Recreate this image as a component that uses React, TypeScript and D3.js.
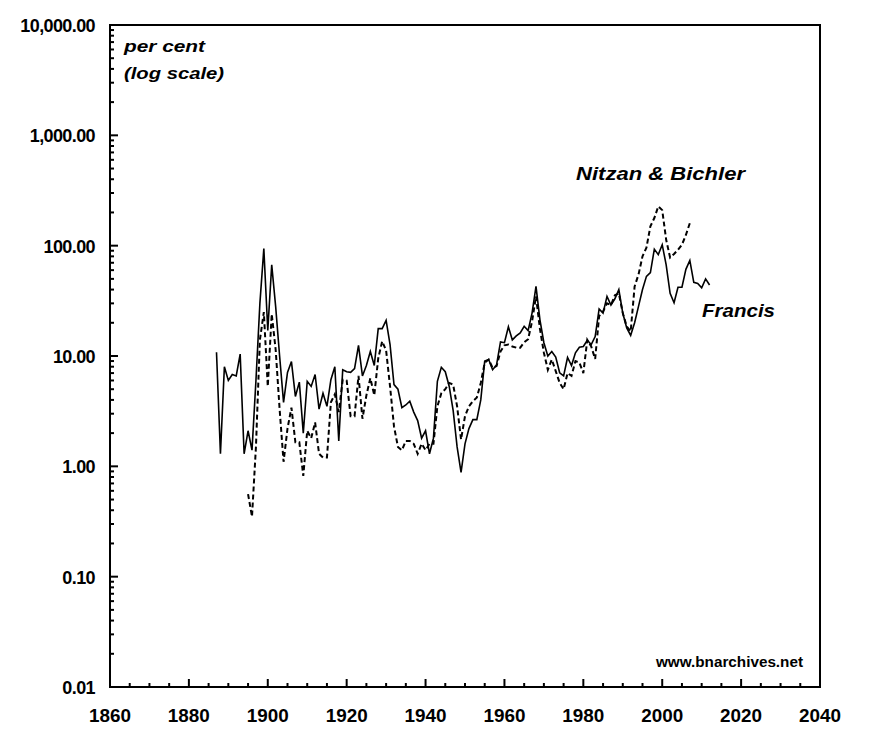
import { useEffect, useRef } from "react";
import * as d3 from "d3";

// Francis series (solid), annual, 1887-2012
const francisStart = 1887;
const francisValues = [
  10.8, 1.3, 8.0, 6.0, 6.8, 6.6, 10.4, 1.3, 2.1, 1.4,
  6.0, 30, 94, 17, 67, 28, 10, 3.8, 7.1, 8.9,
  4.3, 5.8, 2.0, 5.9, 5.3, 6.8, 3.3, 4.6, 3.5, 6.1,
  8.0, 1.7, 7.5, 7.2, 7.1, 7.7, 12.5, 6.6, 8.2, 11,
  8.2, 17.7, 17.7, 21, 12.7, 5.5, 5.0, 3.4, 3.6, 3.9,
  3.1, 2.6, 1.8, 2.1, 1.3, 1.8, 5.9, 7.9, 7.2, 5.3,
  3.2, 1.5, 0.88, 1.6, 2.2, 2.65, 2.65, 4.0, 9.0, 9.3,
  7.5, 8.3, 13.4, 13.2, 18.4, 14, 15.2, 16.2, 18.6, 17,
  24.5, 42.7, 21.3, 13.2, 10, 11, 9.8, 7.05, 6.6, 9.7,
  8.2, 10.7, 12, 12.2, 13.9, 12.7, 15, 26.7, 24.5, 34.7,
  29, 33, 40, 24.5, 18, 15.4, 20, 28.3, 40, 52.7,
  57, 93, 83, 102, 67, 37, 30.4, 42, 42, 61,
  73.5, 46.5, 45.5, 41.5, 50, 44,
];

// Nitzan & Bichler series (dashed), annual, 1895-2007
const nbStart = 1895;
const nbValues = [
  0.56, 0.35, 1.5, 14, 25, 5.3, 24, 11.4, 3.3, 1.1,
  2.2, 3.4, 1.65, 1.65, 0.82, 2.1, 1.8, 2.5, 1.3, 1.2,
  1.2, 3.8, 4.5, 3.1, 6.1, 6.0, 2.85, 2.85, 6.6, 2.7,
  4.4, 6.3, 4.4, 9.5, 13.6, 11.2, 5.3, 2.3, 1.5, 1.4,
  1.7, 1.7, 1.6, 1.3, 1.6, 1.4, 1.6, 1.6, 3.5, 4.6,
  5.0, 5.7, 5.5, 3.5, 1.75, 2.85, 3.5, 3.9, 4.2, 5.7,
  8.7, 9.3, 7.8, 8.1, 11, 12.5, 12.7, 12.2, 11.9, 11.9,
  13.3, 14.2, 20.6, 34.7, 17.6, 10.7, 7.5, 9.3, 7.3, 5.7,
  5.0, 7.0, 6.6, 9.0, 8.7, 7.0, 14, 12.2, 9.4, 23,
  25.3, 30, 29, 35.5, 37, 24.5, 18.5, 16.7, 42.7, 55,
  80, 96, 150, 178, 227, 210, 113, 78, 84, 92,
  102, 125, 160,
];

const xTicks = [1860, 1880, 1900, 1920, 1940, 1960, 1980, 2000, 2020, 2040];
const yTicks = [0.01, 0.1, 1, 10, 100, 1000, 10000];

const FONT = "'Liberation Sans', Arial, sans-serif";

export default function App() {
  const svgRef = useRef<SVGSVGElement>(null);

  useEffect(() => {
    const svg = d3.select(svgRef.current);
    svg.selectAll("*").remove();

    const left = 110, right = 820, top = 25, bottom = 687;
    const x = d3.scaleLinear().domain([1860, 2040]).range([left, right]);
    const y = d3.scaleLog().domain([0.01, 10000]).range([bottom, top]);

    // frame
    svg.append("rect")
      .attr("x", left).attr("y", top)
      .attr("width", right - left).attr("height", bottom - top)
      .attr("fill", "none").attr("stroke", "#000").attr("stroke-width", 2);

    // x ticks (major every 20, minor every 5), pointing inward
    const g = svg.append("g").attr("stroke", "#000").attr("stroke-width", 2);
    for (let yr = 1865; yr < 2040; yr += 5) {
      const major = yr % 20 === 0;
      g.append("line")
        .attr("x1", x(yr)).attr("x2", x(yr))
        .attr("y1", bottom).attr("y2", bottom - (major ? 8 : 4));
    }
    // y ticks (major per decade, minor 2..9)
    for (let e = -2; e < 4; e++) {
      for (let m = 1; m <= 9; m++) {
        const v = m * Math.pow(10, e);
        if (m === 1 && e === -2) continue;
        g.append("line")
          .attr("x1", left).attr("x2", left + (m === 1 ? 8 : 4))
          .attr("y1", y(v)).attr("y2", y(v));
      }
    }

    svg.append("g").selectAll("text").data(xTicks).join("text")
      .attr("x", (d) => x(d)).attr("y", bottom + 35)
      .attr("text-anchor", "middle")
      .attr("font-family", FONT).attr("font-size", 18).attr("font-weight", "bold")
      .attr("textLength", 42).attr("lengthAdjust", "spacingAndGlyphs")
      .text((d) => d);

    const fmt = d3.format(",.2f");
    svg.append("g").selectAll("text").data(yTicks).join("text")
      .attr("x", left - 15).attr("y", (d) => y(d) + 7)
      .attr("text-anchor", "end")
      .attr("font-family", FONT).attr("font-size", 18).attr("font-weight", "bold")
      .attr("letter-spacing", -0.6)
      .text((d) => fmt(d));

    const line = d3.line<[number, number]>()
      .x((d) => x(d[0])).y((d) => y(d[1]));

    const francis: [number, number][] = francisValues.map((v, i) => [francisStart + i, v]);
    const nb: [number, number][] = nbValues.map((v, i) => [nbStart + i, v]);

    svg.append("path").datum(nb).attr("d", line)
      .attr("fill", "none").attr("stroke", "#000").attr("stroke-width", 2)
      .attr("stroke-dasharray", "5,3");
    svg.append("path").datum(francis).attr("d", line)
      .attr("fill", "none").attr("stroke", "#000").attr("stroke-width", 1.6);

    const label = (tx: number, ty: number, t: string, size: number, len: number, italic = true) =>
      svg.append("text").attr("x", tx).attr("y", ty)
        .attr("font-family", FONT).attr("font-size", size)
        .attr("font-style", italic ? "italic" : "normal").attr("font-weight", "bold")
        .attr("textLength", len).attr("lengthAdjust", "spacingAndGlyphs").text(t);

    label(124, 52, "per cent", 17, 81);
    label(124, 79, "(log scale)", 17, 100);
    label(576, 180, "Nitzan & Bichler", 19, 169);
    label(702, 317, "Francis", 19, 73);
    label(656, 667, "www.bnarchives.net", 14, 147, false);
  }, []);

  return <svg ref={svgRef} width={873} height={745} style={{ position: "absolute", left: 0, top: 0, background: "#fff" }} />;
}
